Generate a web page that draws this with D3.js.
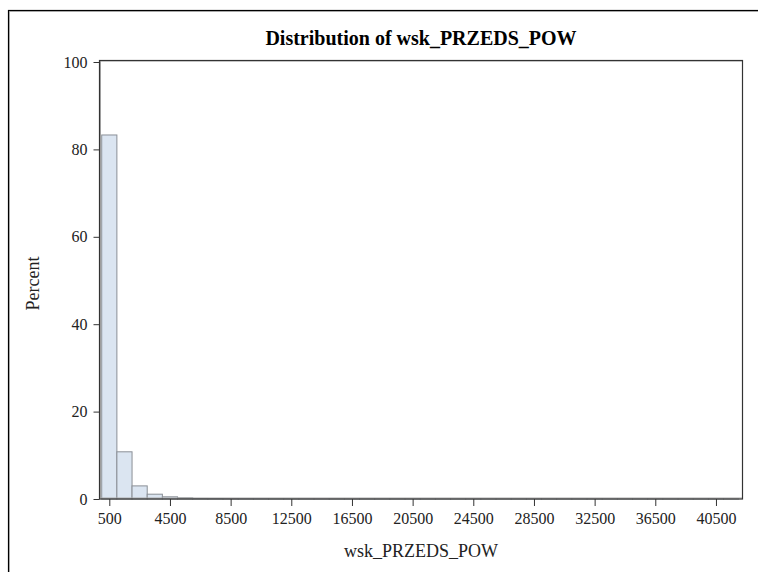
<!DOCTYPE html>
<html><head><meta charset="utf-8">
<script src="https://cdn.jsdelivr.net/npm/d3@7/dist/d3.min.js"></script>
<style>body{margin:0;background:#fff}svg{display:block}</style>
</head><body>
<script>
// Histogram data: bin width 1000, bin midpoints start at 500
const binStarts = [0,1000,2000,3000,4000,5000,6000,7000,8000,9000,10000,11000,12000,13000,14000,15000,16000,17000,18000,19000,20000,21000,22000,23000,24000,25000,26000,27000,28000,29000,30000,31000,32000,33000,34000,35000,36000,37000,38000,39000,40000,41000];
const percents = [83.3,10.8,3.0,1.1,0.5,0.25,0.12,0.1,0.08,0.06,0.05,0.04,0.04,0.03,0.03,0.02,0.02,0.02,0.02,0.02,0.02,0.01,0.01,0.01,0.01,0.01,0.01,0.01,0.01,0.01,0.01,0.01,0.01,0.01,0.01,0.01,0.01,0.01,0.01,0.01,0.01,0.01];
const binWidth = 1000;
const xTicks = [500,4500,8500,12500,16500,20500,24500,28500,32500,36500,40500];
const yTicks = [0,20,40,60,80,100];
const titleText = "Distribution of wsk_PRZEDS_POW";
const xLabel = "wsk_PRZEDS_POW";
const yLabel = "Percent";

const W = 758, H = 572;
const L = 99.5, R = 742.5, T = 62, B = 499;
const svg = d3.select("body").append("svg").attr("width", W).attr("height", H);

// outer border
svg.append("rect").attr("x",9.5).attr("y",11.5).attr("width",800).attr("height",600).attr("fill","none").attr("stroke","#bbb").attr("stroke-width",1);
svg.append("rect").attr("x",8.5).attr("y",10.5).attr("width",800).attr("height",600).attr("fill","none").attr("stroke","#000").attr("stroke-width",1.2);

const x = d3.scaleLinear().domain([-146, 42250]).range([L, R]);
const y = d3.scaleLinear().domain([0, 100]).range([B, T]);

const data = binStarts.map((s,i)=>({s, p: percents[i]}));
svg.append("g").selectAll("rect").data(data).join("rect")
  .attr("x", d=>x(d.s)).attr("width", d=>x(d.s+binWidth)-x(d.s))
  .attr("y", d=>y(d.p)).attr("height", d=>y(0)-y(d.p))
  .attr("fill","#dbe5f1").attr("stroke","#8a8f96").attr("stroke-width",1);

// plot frame
svg.append("rect").attr("x",L+1).attr("y",T-1).attr("width",R-L-1).attr("height",B-T).attr("fill","none").attr("stroke","#aaa").attr("stroke-width",1);
svg.append("rect").attr("x",L).attr("y",T-1.5).attr("width",R-L).attr("height",B-T+1.5).attr("fill","none").attr("stroke","#333").attr("stroke-width",1.2);

const font = "'Liberation Serif','Times New Roman',serif";
const xAxis = d3.axisBottom(x).tickValues(xTicks).tickSize(7).tickSizeOuter(0).tickFormat(d3.format("d"));
const gx = svg.append("g").attr("transform",`translate(0,${B})`).call(xAxis);
gx.select(".domain").remove();
gx.selectAll("line").attr("stroke","#333");
gx.selectAll("text").attr("font-family",font).attr("font-size",16).attr("fill","#222").attr("y",11).attr("dy","0.85em");

const yAxis = d3.axisLeft(y).tickValues(yTicks).tickSize(6).tickSizeOuter(0);
const gy = svg.append("g").attr("transform",`translate(${L},0)`).call(yAxis);
gy.select(".domain").remove();
gy.selectAll("line").attr("stroke","#333");
gy.selectAll("text").attr("font-family",font).attr("font-size",16).attr("fill","#222").attr("x",-12);

svg.append("text").attr("x",(L+R)/2).attr("y",45).attr("text-anchor","middle")
  .attr("font-family",font).attr("font-weight","bold").attr("font-size",20).attr("fill","#000").text(titleText);
svg.append("text").attr("x",(L+R)/2).attr("y",557).attr("text-anchor","middle")
  .attr("font-family",font).attr("font-size",18).attr("fill","#222").text(xLabel);
svg.append("text").attr("transform",`translate(39,${(T+B)/2+3}) rotate(-90)`).attr("text-anchor","middle")
  .attr("font-family",font).attr("font-size",18).attr("fill","#222").text(yLabel);
</script>
</body></html>
